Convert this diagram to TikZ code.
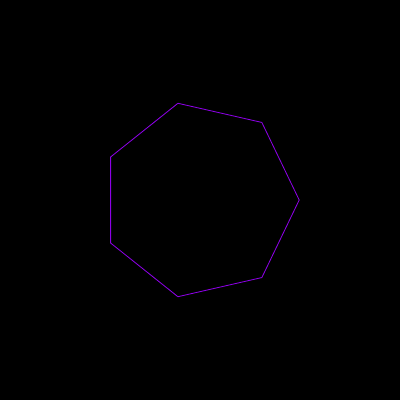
\documentclass[tikz,border=0pt]{standalone}
\usepackage{tikz}
\definecolor{hepLine}{RGB}{140,0,230}
\tikzset{
    hepEdge/.style={draw=hepLine, line width=0.6pt, line join=miter}
}
\begin{document}
\begin{tikzpicture}
% background and bounding box
\fill[black] (-5,-5) rectangle (5,5);
\useasboundingbox (-5,-5) rectangle (5,5);
% heptagon
\draw[hepEdge] (0:2.48)
    \foreach \k in {1,...,6} { -- ({\k*360/7}:2.48) } -- cycle;
\end{tikzpicture}
\end{document}
